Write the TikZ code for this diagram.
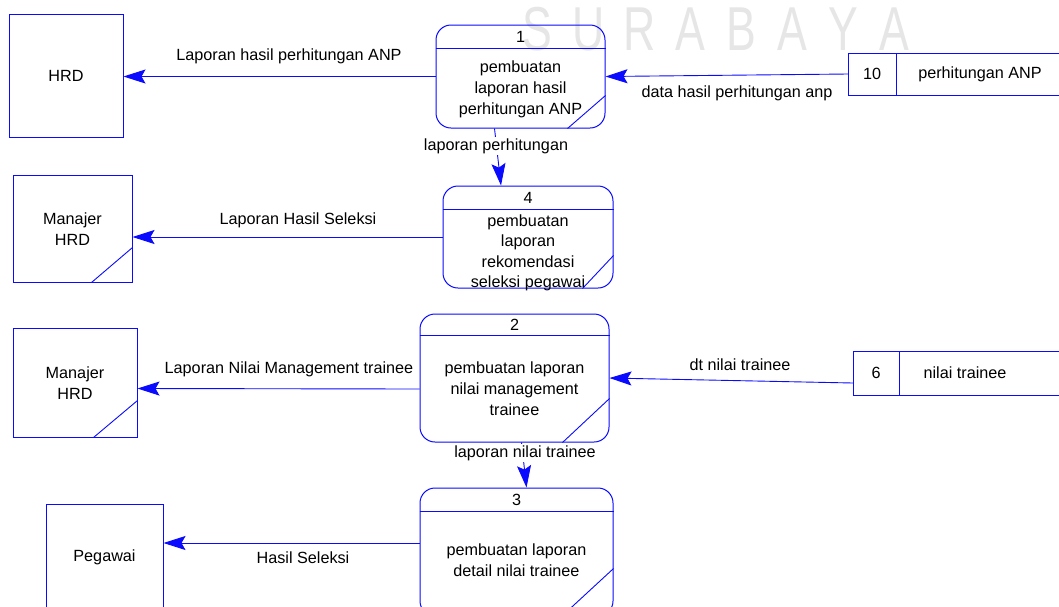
\documentclass[tikz,border=0pt]{standalone}
\usepackage{fontspec}
\setmainfont{Liberation Sans}
\usetikzlibrary{arrows.meta}
\definecolor{dfdblue}{RGB}{10,10,255}
\definecolor{wmgray}{RGB}{230,230,230}
\tikzset{
  procbox/.style={draw=dfdblue, line width=1pt, rounded corners=15pt, inner sep=0pt},
  entbox/.style={draw=dfdblue, line width=1pt, inner sep=0pt},
  deco/.style={draw=dfdblue, line width=0.9pt},
  flow/.style={draw=dfdblue, line width=0.9pt, -{Stealth[length=22pt, width=14pt, inset=4pt]}},
  lbl/.style={font=\fontsize{16.2}{21}\selectfont, inner sep=0pt, align=center, text=black},
  plain/.style={inner sep=0pt, minimum size=0pt}
}
\newcommand{\wmletter}[1]{\makebox[71pt][c]{#1}}
\begin{document}
\begin{tikzpicture}[x=1pt, y=-1pt]
\useasboundingbox (0,0) rectangle (1059,606);
\clip (0,0) rectangle (1059,606);
\fill[white] (0,0) rectangle (1059,606);

% watermark
\node[plain, anchor=base, text=wmgray, font=\fontsize{62}{62}\selectfont] (wm) at (716,50)
  {\scalebox{0.72}[1]{\wmletter{S}\wmletter{U}\wmletter{R}\wmletter{A}\wmletter{B}\wmletter{A}\wmletter{Y}\wmletter{A}}};

% external entities
\node[entbox, minimum width=114pt, minimum height=123pt] (hrd) at (66,75.5) {};
\node[lbl] (hrdt) at (66,76) {HRD};

\node[entbox, minimum width=119pt, minimum height=107pt] (mhrdA) at (72.5,228.5) {};
\node[lbl] (mhrdAt) at (72.5,229) {Manajer\\HRD};
\draw[deco] ([yshift=35pt]mhrdA.south east) -- ([xshift=-41pt]mhrdA.south east);

\node[entbox, minimum width=124pt, minimum height=109pt] (mhrdB) at (75,382.5) {};
\node[lbl] (mhrdBt) at (75,383) {Manajer\\HRD};
\draw[deco] ([yshift=37pt]mhrdB.south east) -- ([xshift=-44pt]mhrdB.south east);

\node[entbox, minimum width=117pt, minimum height=120pt] (peg) at (104.5,564) {};
\node[lbl] (pegt) at (104.5,557) {Pegawai};

% processes
\node[procbox, minimum width=169pt, minimum height=103pt] (p1) at (520.5,76.5) {};
\draw[deco] ([yshift=-24pt]p1.north west) -- ([yshift=-24pt]p1.north east);
\draw[deco] ([yshift=33pt]p1.south east) -- ([xshift=-38pt]p1.south east);
\node[lbl] (p1n) at (520.5,37) {1};
\node[lbl] (p1t) at (520.5,89) {pembuatan\\laporan hasil\\perhitungan ANP};

\node[procbox, minimum width=170pt, minimum height=102pt] (p4) at (528,237) {};
\draw[deco] ([yshift=-24pt]p4.north west) -- ([yshift=-24pt]p4.north east);
\draw[deco] ([yshift=33pt]p4.south east) -- ([xshift=-31pt]p4.south east);
\node[lbl] (p4n) at (528,198) {4};
\node[lbl, font=\fontsize{16.2}{20.5}\selectfont] (p4t) at (528,253) {pembuatan\\laporan\\rekomendasi\\seleksi pegawai};

\node[procbox, minimum width=189pt, minimum height=128pt] (p2) at (514.5,378) {};
\draw[deco] ([yshift=-22pt]p2.north west) -- ([yshift=-22pt]p2.north east);
\draw[deco] ([yshift=44pt]p2.south east) -- ([xshift=-47pt]p2.south east);
\node[lbl] (p2n) at (514.5,325) {2};
\node[lbl] (p2t) at (514.5,389) {pembuatan laporan\\nilai management\\trainee};

\node[procbox, minimum width=193pt, minimum height=128pt] (p3) at (516.5,552) {};
\draw[deco] ([yshift=-24pt]p3.north west) -- ([yshift=-24pt]p3.north east);
\draw[deco] ([yshift=48pt]p3.south east) -- ([xshift=-52pt]p3.south east);
\node[lbl] (p3n) at (516.5,500) {3};
\node[lbl] (p3t) at (516.5,560) {pembuatan laporan\\detail nilai trainee};

% data stores
\coordinate (ds10nw) at (848,53);
\coordinate (ds10sw) at (848,95);
\coordinate (ds10w) at (848,74);
\draw[deco, line width=1pt] (1062,53) -- (ds10nw) -- (ds10sw) -- (1062,95);
\draw[deco, line width=1pt] (896,53) -- (896,95);
\node[lbl] (ds10n) at (872,74) {10};
\node[lbl] (ds10t) at (980,74) {perhitungan ANP};

\coordinate (ds6nw) at (853,351);
\coordinate (ds6sw) at (853,395);
\coordinate (ds6w) at (853,383);
\draw[deco, line width=1pt] (1062,351) -- (ds6nw) -- (ds6sw) -- (1062,395);
\draw[deco, line width=1pt] (899,351) -- (899,395);
\node[lbl] (ds6n) at (876,373) {6};
\node[lbl] (ds6t) at (965,373) {nilai trainee};

% flows
\draw[flow] (p1.west) -- (hrd.east |- p1.west);
\node[lbl] (f1) at (289,56) {Laporan hasil perhitungan ANP};

\draw[flow] (ds10w) -- (p1.east);
\node[lbl] (f2) at (737,93) {data hasil perhitungan anp};

\draw[flow] ([xshift=-26pt]p1.south) -- ([xshift=-27pt]p4.north);
\node[lbl, fill=white, inner sep=1pt] (f3) at (496,146) {laporan perhitungan};

\draw[flow] (p4.west) -- (mhrdA.east |- p4.west);
\node[lbl] (f4) at (298,220) {Laporan Hasil Seleksi};

\draw[flow] ([yshift=-11pt]p2.west) -- ([yshift=-6pt]mhrdB.east);
\node[lbl] (f5) at (289,369) {Laporan Nilai Management trainee};

\draw[flow] (ds6w) -- (p2.east);
\node[lbl] (f6) at (740,365) {dt nilai trainee};

\draw[flow] ([xshift=7pt]p2.south) -- ([xshift=10pt]p3.north);
\node[lbl, fill=white, inner sep=1pt] (f7) at (525,453) {laporan nilai trainee};

\draw[flow] ([yshift=9pt]p3.west) -- (peg.east |- 0,543);
\node[lbl] (f8) at (303,558) {Hasil Seleksi};
\end{tikzpicture}
\end{document}
